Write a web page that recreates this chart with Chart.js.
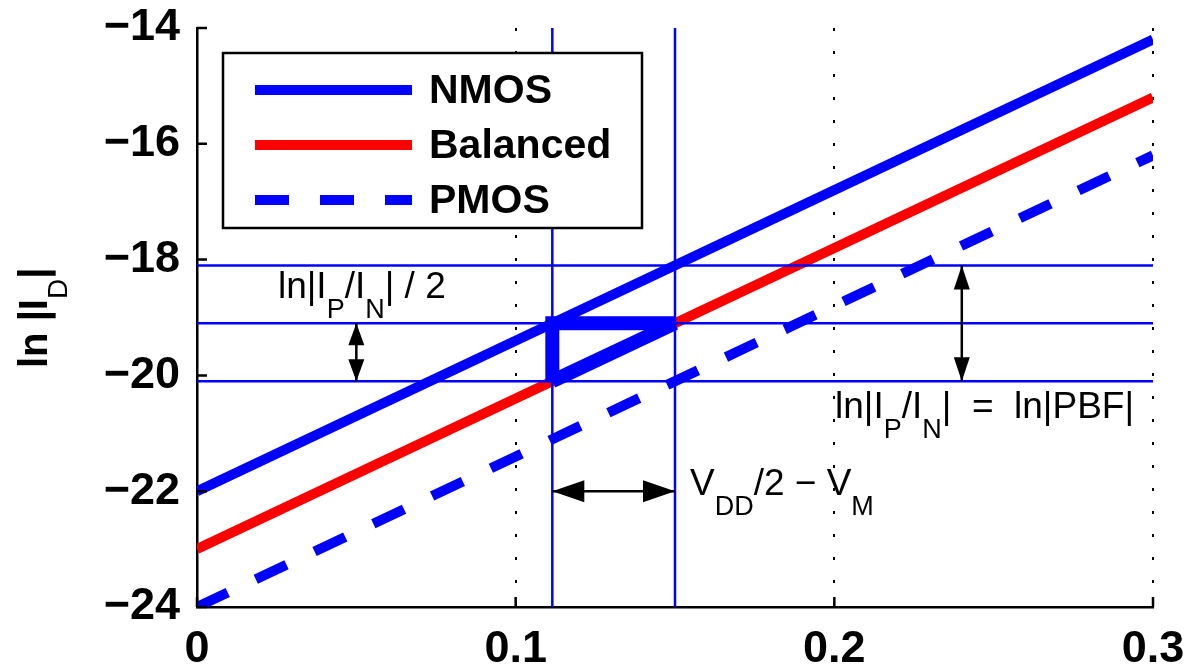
<!DOCTYPE html>
<html>
<head>
<meta charset="utf-8">
<script src="https://cdn.jsdelivr.net/npm/chart.js@4.4.1/dist/chart.umd.min.js"></script>
<style>
  html, body { margin: 0; padding: 0; background: #fff; }
  #wrap { width: 1192px; height: 671px; }
</style>
</head>
<body>
<div id="wrap"><canvas id="idChart" width="1192" height="671"></canvas></div>
<script>
// values
const xEnds = [0, 0.3];
const nmos = [-22, -14.2];
const balanced = [-23, -15.2];
const pmos = [-24, -16.2];
const levels = [-18.1, -19.1, -20.1];     // horizontal guide lines
const marks = [0.1115, 0.15];             // vertical guide lines
const xTicks = [0, 0.1, 0.2, 0.3];
const yTicks = [-24, -22, -20, -18, -16, -14];
// arrows as [x1, y1, x2, y2]
const arrowHalf = [0.05, -19.1, 0.05, -20.1];
const arrowFull = [0.24, -18.1, 0.24, -20.1];
const arrowShift = [0.1115, -22, 0.15, -22];

const BLUE = '#0000ff';
const RED = '#ff0000';
const FONT = '"Liberation Sans", Arial, Helvetica, sans-serif';

const pts = (xs, ys) => xs.map((x, i) => ({ x: x, y: ys[i] }));
const line = (data, color, width, extra) => Object.assign({
  data: data, showLine: true, borderColor: color, backgroundColor: color,
  borderWidth: width, pointRadius: 0, fill: false, clip: 0, tension: 0
}, extra || {});

const datasets = [
  // thick marker triangle
  line(pts([marks[0], marks[0], marks[1]], [levels[2], levels[1], levels[1]]), BLUE, 14, { borderJoinStyle: 'miter' }),
  line(pts([marks[0], marks[1]], [levels[2], levels[1]]), BLUE, 14),
  // arrow shafts
  line(pts([arrowHalf[0], arrowHalf[2]], [arrowHalf[1], arrowHalf[3]]), '#000', 2.5),
  line(pts([arrowFull[0], arrowFull[2]], [arrowFull[1], arrowFull[3]]), '#000', 2.5),
  line(pts([arrowShift[0], arrowShift[2]], [arrowShift[1], arrowShift[3]]), '#000', 2.5),
];
levels.forEach(v => datasets.push(line(pts(xEnds, [v, v]), BLUE, 2.5)));
marks.forEach(v => datasets.push(line(pts([v, v], [yTicks[0], yTicks[yTicks.length - 1]]), BLUE, 2.5)));
datasets.push(
  line(pts(xEnds, nmos), BLUE, 10, { label: 'NMOS', legend: true }),
  line(pts(xEnds, balanced), RED, 10, { label: 'Balanced', legend: true }),
  line(pts(xEnds, pmos), BLUE, 10, { label: 'PMOS', legend: true, borderDash: [34, 31] })
);
datasets.forEach((d, i) => { d.order = i; });

const notes = [
  { x: 0.0254, y: -18.66, parts: [['ln|I', 0], ['P', 1], ['/I', 0], ['N', 1], ['| / 2', 0]] },
  { x: 0.2002, y: -20.74, parts: [['ln|I', 0], ['P', 1], ['/I', 0], ['N', 1], ['|  =  ln|PBF|', 0]] },
  { x: 0.1547, y: -22.07, parts: [['V', 0], ['DD', 1], ['/2 \u2212 V', 0], ['M', 1]] }
];

function richText(ctx, x, y, parts, size, subSize, drop, weight) {
  let cx = x;
  parts.forEach(([t, sub]) => {
    ctx.font = weight + ' ' + (sub ? subSize : size) + 'px ' + FONT;
    ctx.fillText(t, cx, sub ? y + drop : y);
    cx += ctx.measureText(t).width;
  });
}

function head(ctx, x0, y0, x1, y1, len, half) {
  const a = Math.atan2(y1 - y0, x1 - x0);
  ctx.beginPath();
  ctx.moveTo(x1, y1);
  ctx.lineTo(x1 - len * Math.cos(a) + half * Math.sin(a), y1 - len * Math.sin(a) - half * Math.cos(a));
  ctx.lineTo(x1 - len * Math.cos(a) - half * Math.sin(a), y1 - len * Math.sin(a) + half * Math.cos(a));
  ctx.closePath();
  ctx.fill();
}

const overlay = {
  id: 'overlay',
  afterDatasetsDraw(chart) {
    const { ctx, chartArea: a, scales: { x, y } } = chart;
    ctx.save();
    // inward tick marks
    ctx.strokeStyle = '#000';
    ctx.lineWidth = 2.5;
    ctx.beginPath();
    yTicks.forEach(v => { const py = y.getPixelForValue(v); ctx.moveTo(a.left, py); ctx.lineTo(a.left + 10, py); });
    xTicks.forEach(v => { const px = x.getPixelForValue(v); ctx.moveTo(px, a.bottom); ctx.lineTo(px, a.bottom - 10); });
    ctx.stroke();

    // double arrow heads
    ctx.fillStyle = '#000';
    [[arrowHalf, 22, 8], [arrowFull, 24, 8], [arrowShift, 32, 11]].forEach(([ar, len, half]) => {
      const p1 = [x.getPixelForValue(ar[0]), y.getPixelForValue(ar[1])];
      const p2 = [x.getPixelForValue(ar[2]), y.getPixelForValue(ar[3])];
      head(ctx, p1[0], p1[1], p2[0], p2[1], len, half);
      head(ctx, p2[0], p2[1], p1[0], p1[1], len, half);
    });

    // annotation text, clipped to the axes
    ctx.save();
    ctx.beginPath();
    ctx.rect(a.left, a.top, a.right - a.left, a.bottom - a.top);
    ctx.clip();
    ctx.textBaseline = 'alphabetic';
    ctx.textAlign = 'left';
    notes.forEach(n => richText(ctx, x.getPixelForValue(n.x), y.getPixelForValue(n.y), n.parts, 37, 27, 20, 'normal'));
    ctx.restore();

    // legend box
    const lx = a.left + 26, ly = a.top + 25, lw = 419, lh = 175;
    ctx.fillStyle = '#fff';
    ctx.fillRect(lx, ly, lw, lh);
    ctx.strokeStyle = '#000';
    ctx.lineWidth = 2.5;
    ctx.strokeRect(lx, ly, lw, lh);
    ctx.font = 'bold 41px ' + FONT;
    ctx.textBaseline = 'middle';
    chart.data.datasets.filter(d => d.legend).forEach((d, i) => {
      const cy = ly + 37 + i * 55;
      ctx.strokeStyle = d.borderColor;
      ctx.lineWidth = d.borderWidth;
      ctx.setLineDash(d.borderDash || []);
      ctx.beginPath();
      ctx.moveTo(lx + 32, cy);
      ctx.lineTo(lx + 189, cy);
      ctx.stroke();
      ctx.setLineDash([]);
      ctx.fillStyle = '#000';
      ctx.fillText(d.label, lx + 206, cy + 2);
    });
    ctx.restore();
  },
  afterDraw(chart) {
    const { ctx } = chart;
    ctx.save();
    ctx.translate(47, 368);
    ctx.rotate(-Math.PI / 2);
    ctx.fillStyle = '#000';
    ctx.textBaseline = 'alphabetic';
    ctx.font = 'bold 40px ' + FONT;
    ctx.fillText('ln |I', 0, 0);
    let w = ctx.measureText('ln |I').width;
    ctx.font = 'normal 28px ' + FONT;
    ctx.fillText('D', w, 20);
    w += ctx.measureText('D').width;
    ctx.font = 'bold 40px ' + FONT;
    ctx.fillText('|', w, 0);
    ctx.restore();
  }
};

const tickFont = { family: FONT, size: 45, weight: 'bold' };

new Chart(document.getElementById('idChart').getContext('2d'), {
  type: 'scatter',
  data: { datasets: datasets },
  options: {
    responsive: false,
    animation: false,
    layout: { padding: { top: 28, right: 39, left: 0, bottom: 0 } },
    plugins: { legend: { display: false }, tooltip: { enabled: false } },
    scales: {
      x: {
        type: 'linear', min: 0, max: 0.3,
        afterBuildTicks: s => { s.ticks = xTicks.map(v => ({ value: v })); },
        afterFit: s => { s.height = 64; s.paddingLeft = 0; s.paddingRight = 0; },
        ticks: {
          color: '#000', font: tickFont, padding: 16, maxRotation: 0, autoSkip: false,
          callback: v => v === 0 ? '0' : v.toFixed(1)
        },
        grid: {
          drawTicks: false, lineWidth: 2,
          color: c => (c.tick && c.tick.value === 0) ? 'rgba(0,0,0,0)' : '#000'
        },
        border: { display: true, color: '#000', width: 2.5, dash: [3, 20] }
      },
      y: {
        type: 'linear', min: -24, max: -14,
        afterBuildTicks: s => { s.ticks = yTicks.map(v => ({ value: v })); },
        afterFit: s => { s.width = 197; s.paddingTop = 0; s.paddingBottom = 0; },
        ticks: {
          color: '#000', font: tickFont, padding: 17,
          callback: v => (v < 0 ? '\u2212' : '') + Math.abs(v)
        },
        grid: { display: false, drawTicks: false },
        border: { display: true, color: '#000', width: 2.5 }
      }
    }
  },
  plugins: [overlay]
});
</script>
</body>
</html>
